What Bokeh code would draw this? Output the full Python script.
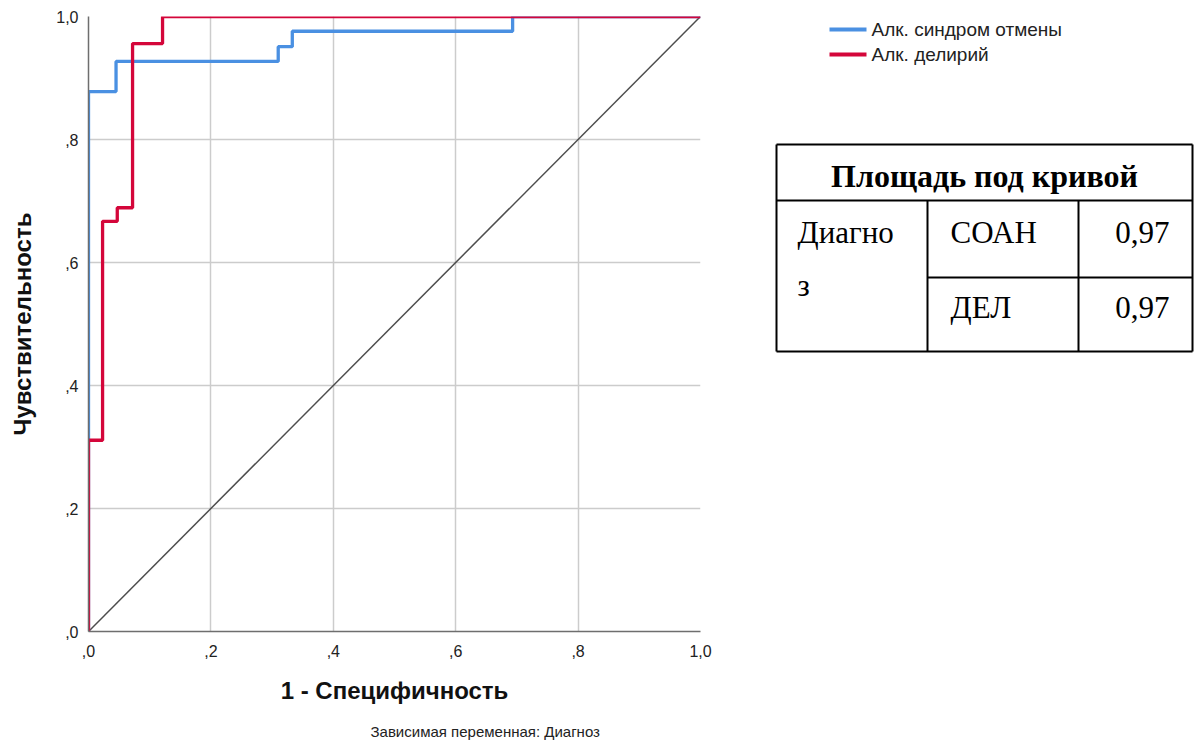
from bokeh.plotting import figure
from bokeh.layouts import row
from bokeh.models import FixedTicker, Range1d, Title
from bokeh.core.properties import value
from bokeh.embed import file_html
from bokeh.resources import INLINE

# ROC curves (1 - specificity, sensitivity)
withdrawal_fpr = [0.0, 0.0, 0.045, 0.045, 0.310, 0.310, 0.333, 0.333, 0.693, 0.693, 1.0]
withdrawal_tpr = [0.0, 0.878, 0.878, 0.927, 0.927, 0.951, 0.951, 0.976, 0.976, 1.0, 1.0]
delirium_fpr = [0.0, 0.0, 0.023, 0.023, 0.047, 0.047, 0.072, 0.072, 0.121, 0.121, 1.0]
delirium_tpr = [0.0, 0.311, 0.311, 0.667, 0.667, 0.689, 0.689, 0.956, 0.956, 1.0, 1.0]
reference_line = [0.0, 1.0]

series_names = ["Алк. синдром отмены", "Алк. делирий"]
series_colors = ["#4a90e2", "#d4063a"]

tick_values = [0.0, 0.2, 0.4, 0.6, 0.8, 1.0]
tick_labels = [",0", ",2", ",4", ",6", ",8", "1,0"]

auc_title = "Площадь под кривой"
auc_group = ["Диагно", "з"]
auc_labels = ["СОАН", "ДЕЛ"]
auc_values = [0.97, 0.97]

SANS = "Liberation Sans"
SERIF = "Liberation Serif"

# ---- ROC plot ----
p = figure(width=720, height=754, output_backend="svg", toolbar_location=None,
           x_range=Range1d(0, 1), y_range=Range1d(0, 1),
           min_border_left=88, min_border_right=20, min_border_top=16, min_border_bottom=123)
p.outline_line_color = None
p.background_fill_color = "white"

for ax, lbl in ((p.xaxis, "1 - Специфичность"), (p.yaxis, "Чувствительность")):
    ax.ticker = FixedTicker(ticks=tick_values)
    ax.major_label_overrides = {t: s for t, s in zip(tick_values, tick_labels)}
    ax.axis_label = lbl
    ax.axis_label_text_font = SANS
    ax.axis_label_text_font_style = "bold"
    ax.axis_label_text_font_size = "24px"
    ax.axis_label_text_color = "#111111"
    ax.major_label_text_font = SANS
    ax.major_label_text_font_size = "16px"
    ax.major_label_text_color = "#222222"
    ax.major_tick_line_color = None
    ax.minor_tick_line_color = None
    ax.major_tick_out = 0
    ax.major_tick_in = 0
    ax.minor_tick_out = 0
    ax.axis_line_color = "#6e6e6e"
    ax.axis_line_width = 1.5

p.xaxis.major_label_standoff = 13
p.xaxis.axis_label_standoff = 17
p.yaxis.major_label_standoff = 10
p.yaxis.axis_label_standoff = 17

p.xgrid.ticker = FixedTicker(ticks=tick_values)
p.ygrid.ticker = FixedTicker(ticks=tick_values)
for g in (p.xgrid, p.ygrid):
    g.grid_line_color = "#cccccc"
    g.grid_line_width = 1.5

p.line(reference_line, reference_line, line_color="#4d4d4d", line_width=1.5)
p.line(withdrawal_fpr, withdrawal_tpr, line_color=series_colors[0], line_width=3.3)
p.line(delirium_fpr, delirium_tpr, line_color=series_colors[1], line_width=3.3)

p.add_layout(Title(text="Зависимая переменная: Диагноз", align="left", offset=282,
                   standoff=28, text_font=SANS, text_font_size="15px",
                   text_font_style="normal", text_color="#222222"), "below")

# ---- legend and AUC table panel (coordinates in page pixels) ----
q = figure(width=483, height=754, output_backend="svg", toolbar_location=None,
           x_range=Range1d(720, 1203), y_range=Range1d(631, 16),
           min_border=0, x_axis_type=None, y_axis_type=None)
q.outline_line_color = None
q.xgrid.visible = False
q.ygrid.visible = False

legend_y = [29, 54]
for name, color, ly in zip(series_names, series_colors, legend_y):
    q.line([829, 866], [ly, ly], line_color=color, line_width=4)
    q.text([871], [ly], text=[name], text_font=value(SANS), text_font_size="19px",
           text_color="#222222", text_baseline="middle", text_align="left")

# table grid
x0, x1, x2, x3 = 776, 927, 1078, 1192
y0, y1, y2, y3 = 144, 200, 277, 351
q.multi_line(xs=[[x0, x3], [x0, x3], [x0, x3], [x0, x0], [x3, x3], [x1, x1], [x2, x2], [x1, x3]],
             ys=[[y0, y0], [y1, y1], [y3, y3], [y0, y3], [y0, y3], [y1, y3], [y1, y3], [y2, y2]],
             line_color="black", line_width=2)

q.text([(x0 + x3) / 2], [175], text=[auc_title], text_font=value(SERIF),
       text_font_style="bold", text_font_size="32px", text_color="black",
       text_align="center", text_baseline="alphabetic")
q.text([797, 797], [232, 285], text=auc_group, text_font=value(SERIF), text_font_size="31px",
       text_color="black", text_align="left", text_baseline="alphabetic")
row_y = [232, 307]
q.text([950] * len(auc_labels), row_y, text=auc_labels, text_font=value(SERIF),
       text_font_size="31px", text_color="black", text_align="left", text_baseline="alphabetic")
q.text([1169] * len(auc_values), row_y, text=[f"{v:.2f}".replace(".", ",") for v in auc_values],
       text_font=value(SERIF), text_font_size="31px", text_color="black",
       text_align="right", text_baseline="alphabetic")

layout = row(p, q, spacing=0)
open("out.html", "w").write(file_html(layout, INLINE))
